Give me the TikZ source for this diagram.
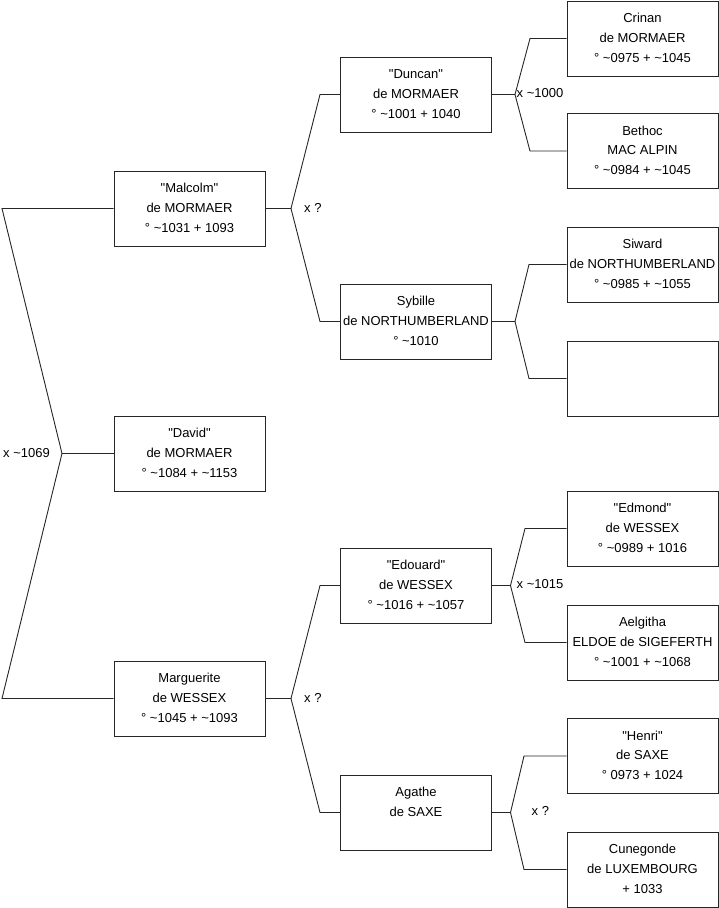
\documentclass[tikz,border=0pt]{standalone}
\usepackage{fontspec}
\setmainfont{Liberation Sans}
\newcommand{\qq}[1]{\textquotedbl#1\textquotedbl}
\begin{document}
\begin{tikzpicture}[x=1pt,y=-1pt,
  person/.style={draw=black!85,line width=0.9pt,minimum width=151pt,minimum height=75pt,inner sep=0pt,align=center,font=\fontsize{13}{19.7}\selectfont},
  link/.style={draw=black!85,line width=0.9pt},
  marr/.style={anchor=west,inner sep=0pt,font=\fontsize{13}{19.7}\selectfont}]
\useasboundingbox (0,0) rectangle (719,908);
% level 1
\node[person] (malcolm) at (189.5,208.5) {\strut\qq{Malcolm}\\\strut de MORMAER\\\strut° \textasciitilde1031 + 1093};
\node[person] (david) at (189.5,453.5) {\strut\qq{David}\\\strut de MORMAER\\\strut° \textasciitilde1084 + \textasciitilde1153};
\node[person] (marguerite) at (189.5,698.5) {\strut Marguerite\\\strut de WESSEX\\\strut° \textasciitilde1045 + \textasciitilde1093};
% level 2
\node[person] (duncan) at (416,94.5) {\strut\qq{Duncan}\\\strut de MORMAER\\\strut° \textasciitilde1001 + 1040};
\node[person] (sybille) at (416,321.5) {\strut Sybille\\\strut de NORTHUMBERLAND\\\strut° \textasciitilde1010};
\node[person] (edouard) at (416,585.5) {\strut\qq{Edouard}\\\strut de WESSEX\\\strut° \textasciitilde1016 + \textasciitilde1057};
\node[person] (agathe) at (416,812.5) {\strut Agathe\\\strut de SAXE\\\strut};
% level 3
\node[person] (crinan) at (642.5,38.5) {\strut Crinan\\\strut de MORMAER\\\strut° \textasciitilde0975 + \textasciitilde1045};
\node[person] (bethoc) at (642.5,151) {\strut Bethoc\\\strut MAC ALPIN\\\strut° \textasciitilde0984 + \textasciitilde1045};
\node[person] (siward) at (642.5,264.5) {\strut Siward\\\strut de NORTHUMBERLAND\\\strut° \textasciitilde0985 + \textasciitilde1055};
\node[person] (empty) at (642.5,378.5) {};
\node[person] (edmond) at (642.5,528.5) {\strut\qq{Edmond}\\\strut de WESSEX\\\strut° \textasciitilde0989 + 1016};
\node[person] (aelgitha) at (642.5,642.5) {\strut Aelgitha\\\strut ELDOE de SIGEFERTH\\\strut° \textasciitilde1001 + \textasciitilde1068};
\node[person] (henri) at (642.5,756) {\strut\qq{Henri}\\\strut de SAXE\\\strut° 0973 + 1024};
\node[person] (cunegonde) at (642.5,869.5) {\strut Cunegonde\\\strut de LUXEMBOURG\\\strut + 1033};
% root fork
\coordinate (r1) at (2,208.5);
\coordinate (rf) at (62,453.5);
\coordinate (r2) at (2,698.5);
\draw[link] (malcolm.west) -- (r1) -- (rf) -- (r2) -- (marguerite.west);
\draw[link] (rf) -- (david.west);
\node[marr] (m0) at (3,453) {x \textasciitilde1069};
% Malcolm fork
\coordinate (fa) at (291,208.5);
\coordinate (fa1) at (320,94.5);
\coordinate (fa2) at (320,321.5);
\draw[link] (malcolm.east) -- (fa);
\draw[link] (duncan.west) -- (fa1) -- (fa) -- (fa2) -- (sybille.west);
\node[marr] (m1) at (304,208) {x ?};
% Marguerite fork
\coordinate (fb) at (291,698.5);
\coordinate (fb1) at (320,585.5);
\coordinate (fb2) at (320,812.5);
\draw[link] (marguerite.east) -- (fb);
\draw[link] (edouard.west) -- (fb1) -- (fb) -- (fb2) -- (agathe.west);
\node[marr] (m2) at (304,698) {x ?};
% Duncan fork
\coordinate (fc) at (515,94.5);
\coordinate (fc1) at (530,38.5);
\coordinate (fc2) at (530,151);
\draw[link] (duncan.east) -- (fc);
\draw[link] (crinan.west) -- (fc1) -- (fc) -- (fc2) -- (bethoc.west);
\node[marr] (m3) at (516.5,93) {x \textasciitilde1000};
% Sybille fork
\coordinate (fd) at (515,321.5);
\coordinate (fd1) at (529,264.5);
\coordinate (fd2) at (529,378.5);
\draw[link] (sybille.east) -- (fd);
\draw[link] (siward.west) -- (fd1) -- (fd) -- (fd2) -- (empty.west);
% Edouard fork
\coordinate (fe) at (510.5,585.5);
\coordinate (fe1) at (525,528.5);
\coordinate (fe2) at (525,642.5);
\draw[link] (edouard.east) -- (fe);
\draw[link] (edmond.west) -- (fe1) -- (fe) -- (fe2) -- (aelgitha.west);
\node[marr] (m4) at (516.5,584.5) {x \textasciitilde1015};
% Agathe fork
\coordinate (ff) at (510.5,812.5);
\coordinate (ff1) at (524,756);
\coordinate (ff2) at (524,869.5);
\draw[link] (agathe.east) -- (ff);
\draw[link] (henri.west) -- (ff1) -- (ff) -- (ff2) -- (cunegonde.west);
\node[marr] (m5) at (531.5,811) {x ?};
\end{tikzpicture}
\end{document}
